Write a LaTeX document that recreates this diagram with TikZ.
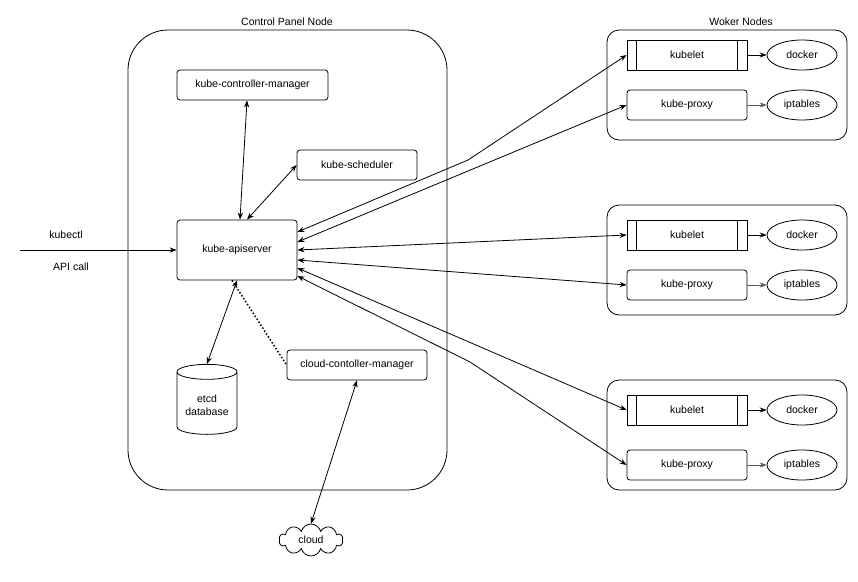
\documentclass[tikz,border=0pt]{standalone}
\usepackage{fontspec}
\setmainfont{Liberation Sans}
\usetikzlibrary{arrows.meta,shapes.geometric,shapes.symbols,shapes.multipart}
\tikzset{
  box/.style={draw,rounded corners=3pt,minimum height=30pt,inner sep=2pt},
  proc/.style={draw,minimum width=120pt,minimum height=30pt},
  oval/.style={draw,ellipse,minimum width=70pt,minimum height=30pt,inner sep=1pt},
  link/.style={{Stealth[length=7pt]}-{Stealth[length=7pt]}},
  arr/.style={-{Stealth[length=7pt]}}
}
\begin{document}
\begin{tikzpicture}[x=1pt,y=-1pt,line width=0.8pt,font=\fontsize{10.5}{12.5}\selectfont]
  \useasboundingbox (0,0) rectangle (858,581);
  % control panel
  \draw[rounded corners=40pt] (128,30) rectangle (447,490);
  \node (cpl) at (287,22) {Control Panel Node};
  \node (cm)  [box,minimum width=151pt] at (252.5,85) {kube-controller-manager};
  \node (sch) [box,minimum width=120pt] at (357,165) {kube-scheduler};
  \node (api) [box,minimum width=120pt,minimum height=60pt] at (237,250) {kube-apiserver};
  \node (etcd) [draw,cylinder,shape border rotate=90,aspect=0.3,minimum width=60pt,minimum height=70pt,align=center] at (207,405) {etcd\\database};
  \node (ccm) [box,minimum width=140pt] at (357,365) {cloud-contoller-manager};
  \node (cloud) [draw,cloud,cloud puffs=10,aspect=2,minimum width=64pt,minimum height=32pt] at (311,540) {cloud};
  \node (kctl) at (66,235) {kubectl};
  \node (call) at (71,267) {API call};
  \coordinate (in) at (20,250);
  % worker nodes
  \node (wl) at (741,22) {Woker Nodes};
  \foreach \t in {30,205,380}{
    \draw[rounded corners=12pt] (607,\t) rectangle (847,\t+110);
  }
  \foreach \n/\a/\b in {1/55/105,2/235/285,3/410/465}{
    \node (let\n) [proc] at (687,\a) {kubelet};
    \draw ([xshift=10pt]let\n.north west) -- ([xshift=10pt]let\n.south west)
          ([xshift=-10pt]let\n.north east) -- ([xshift=-10pt]let\n.south east);
    \node (prx\n) [box,minimum width=120pt] at (687,\b) {kube-proxy};
    \node (dck\n) [oval] at (802,\a) {docker};
    \node (ipt\n) [oval] at (802,\b) {iptables};
    \draw[arr] (let\n) -- (dck\n);
    \draw[arr,gray!70!black] (prx\n) -- (ipt\n);
  }
  % connectors
  \draw[arr] (in) -- (api);
  \draw[link] (cm.south -| 247,0) -- (api.north -| 240,0);
  \draw[link] (sch.west) -- (api.north -| 247,0);
  \draw[link] (api.south -| 237,0) -- (etcd.north -| 207,0);
  \draw[dotted,line width=1.5pt] (api.south -| 232,0) -- (ccm.west);
  \draw[link] (ccm.south) -- (cloud.north);
  \draw[link] (api.east |- 0,232) -- (468,160) -- (let1.west);
  \draw[link] (api.east |- 0,242) -- (prx1.west);
  \draw[link] (api.east |- 0,250) -- (let2.west);
  \draw[link] (api.east |- 0,260) -- (prx2.west);
  \draw[link] (api.east |- 0,268) -- (let3.west);
  \draw[link] (api.east |- 0,276) -- (470,362) -- (prx3.west);
\end{tikzpicture}
\end{document}
